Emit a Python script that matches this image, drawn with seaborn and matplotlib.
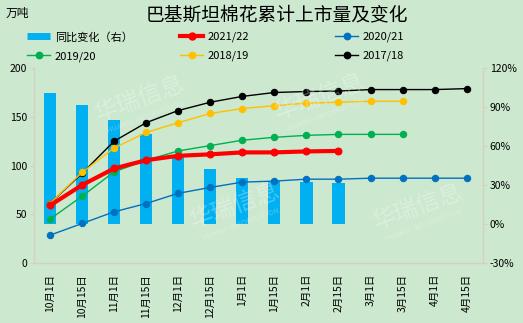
import numpy as np
import matplotlib
matplotlib.use('Agg')
import matplotlib.pyplot as plt
import seaborn as sns
from matplotlib.lines import Line2D
from matplotlib.ticker import FuncFormatter, MultipleLocator

dates = ['10月1日', '10月15日', '11月1日', '11月15日', '12月1日', '12月15日', '1月1日',
         '1月15日', '2月1日', '2月15日', '3月1日', '3月15日', '4月1日', '4月15日']
yoy = [101, 92, 80, 69, 51.5, 42, 35.5, 33, 32, 31.5]
s2122 = [59, 80, 97, 105.5, 110, 111.5, 113.5, 113.5, 114.5, 115]
s2021 = [28.5, 40.5, 52.5, 61, 71.5, 77.5, 83, 84, 86, 86, 87, 87, 87, 87]
s1920 = [45, 68.5, 93.5, 105.5, 115, 120.5, 126, 129, 131, 132, 132, 132]
s1819 = [61, 93, 118, 134, 144, 153.5, 158.5, 161.5, 164, 165, 166, 166]
s1718 = [61, 92, 125, 144, 156.5, 165, 171, 175, 176, 176.5, 178, 178, 178, 179]

series = [
    ('2017/18', s1718, '#000000', 1.0, 4.6),
    ('2018/19', s1819, '#FFC000', 1.0, 4.6),
    ('2019/20', s1920, '#00B050', 1.0, 4.6),
    ('2020/21', s2021, '#0070C0', 1.0, 4.6),
    ('2021/22', s2122, '#FF0000', 3.0, 5.0),
]

BG = '#CCE8CF'
SPINE = '#D9CFC0'
BAR = '#00B0F0'

plt.rcParams['font.family'] = ['Noto Sans CJK SC', 'DejaVu Sans']

fig = plt.figure(figsize=(5.23, 3.23), dpi=100, facecolor=BG)
ax = fig.add_axes([0.065, 0.186, 0.858, 0.603])
ax2 = ax.twinx()

# bars on the right axis
sns.barplot(x=dates[:len(yoy)], y=yoy, order=dates, ax=ax2, color=BAR,
            saturation=1, width=0.38, edgecolor='none')

# lines on the left axis
xpos = np.arange(len(dates))
for name, vals, col, lw, ms in series:
    sns.lineplot(x=xpos[:len(vals)], y=vals, ax=ax, color=col, linewidth=lw,
                 marker='o', markersize=ms, markeredgecolor=col, legend=False)

ax.set_zorder(ax2.get_zorder() + 1)
ax.patch.set_visible(False)
ax2.patch.set_visible(False)

ax.set_xlim(-0.5, len(dates) - 0.5)
ax.set_ylim(0, 200)
ax.yaxis.set_major_locator(MultipleLocator(50))
ax2.set_ylim(-30, 120)
ax2.yaxis.set_major_locator(MultipleLocator(30))
ax2.yaxis.set_major_formatter(FuncFormatter(lambda v, p: f'{v:.0f}%'))
ax.set_xticks(xpos)
ax.set_xticklabels(dates, rotation=90, fontsize=7.5)
ax.set_xlabel('')
ax.set_ylabel('')
ax2.set_ylabel('')

for a in (ax, ax2):
    a.spines['top'].set_visible(False)
    for side in ('left', 'right', 'bottom'):
        a.spines[side].set_color(SPINE)
        a.spines[side].set_linewidth(0.8)
    a.grid(False)
ax.tick_params(axis='y', labelsize=7.5, length=3, color=SPINE, pad=2)
ax2.tick_params(axis='y', labelsize=7.5, length=3, color=SPINE, pad=2)
ax.tick_params(axis='x', length=0, pad=8)

# faint watermarks
for (wx, wy) in [(140, 100), (320, 98), (235, 207), (418, 208)]:
    fig.text(wx / 523, 1 - wy / 323, '华瑞信息', rotation=20, ha='center', va='center',
             fontsize=17, color='white', alpha=0.28, zorder=10)
    fig.text((wx + 6) / 523, 1 - (wy + 17) / 323, 'HUARUI INFORMATION', rotation=20,
             ha='center', va='center', fontsize=5.5, color='white', alpha=0.3, zorder=10)

fig.text(0.53, 0.953, '巴基斯坦棉花累计上市量及变化', ha='center', va='center', fontsize=13.5)
fig.text(0.01, 0.96, '万吨', ha='left', va='center', fontsize=8.5)

def ln(col, lw, ms):
    return Line2D([], [], color=col, linewidth=lw, marker='o', markersize=ms,
                  markeredgecolor=col)

cols = {name: (col, lw, ms) for name, _, col, lw, ms in series}
bar_h = Line2D([], [], color=BAR, linewidth=5, solid_capstyle='butt')
groups = [
    ([bar_h, ln(*cols['2019/20'])], ['同比变化（右）', '2019/20'], 27),
    ([ln(*cols['2021/22']), ln(*cols['2018/19'])], ['2021/22', '2018/19'], 180),
    ([ln(*cols['2020/21']), ln(*cols['2017/18'])], ['2020/21', '2017/18'], 335),
]
for h, l, xp in groups:
    fig.legend(h, l, loc='upper left', bbox_to_anchor=(xp / 523, 0.902),
               frameon=False, handlelength=2.1, handletextpad=0.4,
               labelspacing=0.78, borderpad=0, borderaxespad=0, fontsize=8)

fig.savefig('out.png', dpi=100, facecolor=BG)
